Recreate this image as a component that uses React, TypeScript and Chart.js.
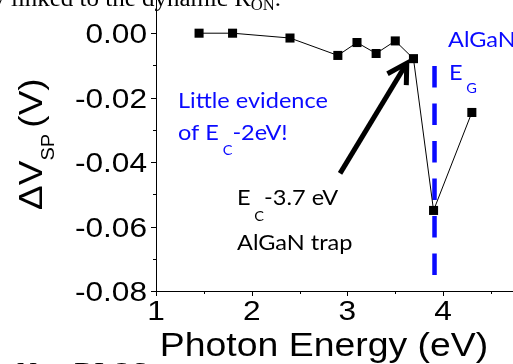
import React, { useEffect, useRef } from 'react';
import { Chart, registerables } from 'chart.js';

Chart.register(...registerables);

// ---- data ----
const ENERGY = [1.45, 1.8, 2.4, 2.9, 3.1, 3.3, 3.5, 3.69, 3.9, 4.3];
const DVSP = [0.0, 0.0, -0.0015, -0.0069, -0.0029, -0.0063, -0.0024, -0.0079, -0.055, -0.0246];
const X_TICKS = [1, 2, 3, 4];
const X_MINOR = [1.5, 2.5, 3.5, 4.5];
const X_LABELS = ['1', '2', '3', '4'];
const Y_TICKS = [0, -0.02, -0.04, -0.06, -0.08];
const Y_MINOR = [-0.01, -0.03, -0.05, -0.07];
const Y_LABELS = ['0.00', '-0.02', '-0.04', '-0.06', '-0.08'];
const GAP_E = [3.91, 3.91];
const GAP_Y = [-0.0102, -0.0754];
const ARROW_X = [2.923, 3.62];
const ARROW_Y = [-0.0435, -0.0093];

const BLUE = '#0a0aff';
const ARIAL = '"Liberation Sans", Arial, sans-serif';
const CAL = 'Lato, "Open Sans", sans-serif';
const SERIF = '"Liberation Serif", "Times New Roman", serif';

type Part = { t: string; size: number; dy?: number };

function drawRich(ctx: CanvasRenderingContext2D, parts: Part[], x: number, y: number, family: string, color: string, sx: number) {
  ctx.save();
  ctx.translate(x, y);
  ctx.scale(sx, 1);
  ctx.fillStyle = color;
  ctx.textAlign = 'left';
  ctx.textBaseline = 'alphabetic';
  let cx = 0;
  for (const p of parts) {
    ctx.font = `${p.size}px ${family}`;
    ctx.fillText(p.t, cx, p.dy || 0);
    cx += ctx.measureText(p.t).width;
  }
  ctx.restore();
}

function drawText(ctx: CanvasRenderingContext2D, t: string, x: number, y: number, font: string, color: string, align: CanvasTextAlign, sx: number) {
  ctx.save();
  ctx.translate(x, y);
  ctx.scale(sx, 1);
  ctx.font = font;
  ctx.fillStyle = color;
  ctx.textAlign = align;
  ctx.textBaseline = 'alphabetic';
  ctx.fillText(t, 0, 0);
  ctx.restore();
}

const deco = {
  id: 'deco',
  afterDraw(chart: any) {
    const ctx: CanvasRenderingContext2D = chart.ctx;
    const xs = chart.scales.x;
    const ys = chart.scales.y;
    const ca = chart.chartArea;
    ctx.save();
    // ticks
    ctx.strokeStyle = '#000';
    ctx.lineWidth = 1;
    ctx.beginPath();
    Y_TICKS.forEach((v) => {
      const py = Math.round(ys.getPixelForValue(v)) + 0.5;
      ctx.moveTo(ca.left - 5, py);
      ctx.lineTo(ca.left, py);
    });
    Y_MINOR.forEach((v) => {
      const py = Math.round(ys.getPixelForValue(v)) + 0.5;
      ctx.moveTo(ca.left - 3, py);
      ctx.lineTo(ca.left, py);
    });
    X_TICKS.forEach((v) => {
      const px = Math.round(xs.getPixelForValue(v)) + 0.5;
      ctx.moveTo(px, ca.bottom);
      ctx.lineTo(px, ca.bottom + 5);
    });
    X_MINOR.forEach((v) => {
      const px = Math.round(xs.getPixelForValue(v)) + 0.5;
      ctx.moveTo(px, ca.bottom);
      ctx.lineTo(px, ca.bottom + 3);
    });
    ctx.stroke();

    // tick labels
    Y_TICKS.forEach((v, i) => {
      const py = ys.getPixelForValue(v);
      drawText(ctx, Y_LABELS[i], ca.left - 9, py + 10, `28px ${ARIAL}`, '#000', 'right', 1.13);
    });
    X_TICKS.forEach((v, i) => {
      const px = xs.getPixelForValue(v);
      drawText(ctx, X_LABELS[i], px, ca.bottom + 29, `28px ${ARIAL}`, '#000', 'center', 1.13);
    });

    // x title
    drawText(ctx, 'Photon Energy (eV)', 324, 356, `34px ${ARIAL}`, '#000', 'center', 1.1);

    // y title (rotated)
    ctx.save();
    ctx.translate(41.5, 210);
    ctx.rotate(-Math.PI / 2);
    ctx.scale(1, 0.88);
    ctx.fillStyle = '#000';
    ctx.textBaseline = 'alphabetic';
    ctx.textAlign = 'left';
    let cx = 0;
    ctx.font = `37px ${ARIAL}`;
    ctx.fillText('\u0394V', cx, 0);
    cx += ctx.measureText('\u0394V').width;
    ctx.font = `20px ${ARIAL}`;
    ctx.fillText('SP', cx, 14);
    cx += ctx.measureText('SP').width;
    ctx.font = `37px ${ARIAL}`;
    ctx.fillText(' (V)', cx - 4, 0);
    ctx.restore();

    // arrow
    const tx = xs.getPixelForValue(ARROW_X[0]);
    const ty = ys.getPixelForValue(ARROW_Y[0]);
    const hx = xs.getPixelForValue(ARROW_X[1]);
    const hy = ys.getPixelForValue(ARROW_Y[1]);
    const len = Math.hypot(tx - hx, ty - hy);
    const ux = (tx - hx) / len;
    const uy = (ty - hy) / len;
    const a = Math.PI / 6;
    const bl = 22;
    const b1x = hx + bl * (ux * Math.cos(a) - uy * Math.sin(a));
    const b1y = hy + bl * (ux * Math.sin(a) + uy * Math.cos(a));
    const b2x = hx + bl * (ux * Math.cos(-a) - uy * Math.sin(-a));
    const b2y = hy + bl * (ux * Math.sin(-a) + uy * Math.cos(-a));
    ctx.strokeStyle = '#000';
    ctx.lineWidth = 5;
    ctx.lineCap = 'butt';
    ctx.lineJoin = 'miter';
    ctx.beginPath();
    ctx.moveTo(tx, ty);
    ctx.lineTo(hx + ux * 3, hy + uy * 3);
    ctx.stroke();
    ctx.beginPath();
    ctx.moveTo(b1x, b1y);
    ctx.lineTo(hx, hy);
    ctx.lineTo(b2x, b2y);
    ctx.stroke();

    // annotations
    const S = 1.12;
    drawRich(ctx, [{ t: 'AlGaN', size: 21 }], 448, 47, CAL, BLUE, S);
    drawRich(ctx, [{ t: 'E', size: 21 }, { t: ' G', size: 13, dy: 13 }], 449, 80, CAL, BLUE, S);
    drawRich(ctx, [{ t: 'Little evidence', size: 21 }], 178, 108, CAL, BLUE, S);
    drawRich(ctx, [{ t: 'of E', size: 21 }, { t: ' C', size: 13, dy: 15 }, { t: '-2eV!', size: 21 }], 178, 140, CAL, BLUE, S);
    drawRich(ctx, [{ t: 'E', size: 21 }, { t: ' C', size: 13, dy: 16 }, { t: '-3.7 eV', size: 21 }], 237, 205, CAL, '#000', S);
    drawRich(ctx, [{ t: 'AlGaN trap', size: 21 }], 237, 250, CAL, '#000', S);

    // surrounding slide text (cropped)
    drawRich(ctx, [{ t: 'ly linked to the dynamic R', size: 24 }, { t: 'ON', size: 16, dy: 4 }, { t: '.', size: 24 }], -14.7, 5.5, SERIF, '#000', 1.04);
    drawRich(ctx, [{ t: 'Non-DLOS', size: 28 }], 16.7, 381, SERIF, '#000', 1.0);
    ctx.restore();
  },
};

export default function App() {
  const ref = useRef<HTMLCanvasElement | null>(null);
  useEffect(() => {
    document.body.style.margin = '0';
    if (!ref.current) return;
    const chart = new Chart(ref.current, {
      type: 'scatter',
      data: {
        datasets: [
          {
            data: ENERGY.map((x, i) => ({ x, y: DVSP[i] })),
            showLine: true,
            borderColor: '#000',
            borderWidth: 1,
            pointStyle: 'rect',
            pointRadius: 6.4,
            pointBackgroundColor: '#000',
            pointBorderWidth: 0,
            clip: false,
            order: 0,
          } as any,
          {
            data: GAP_E.map((x, i) => ({ x, y: GAP_Y[i] })),
            showLine: true,
            borderColor: BLUE,
            borderWidth: 4.5,
            borderDash: [21.5, 16],
            borderCapStyle: 'butt',
            pointRadius: 0,
            clip: false,
            order: 1,
          } as any,
        ],
      },
      options: {
        animation: false,
        responsive: true,
        maintainAspectRatio: false,
        layout: { padding: 0, autoPadding: false },
        plugins: { legend: { display: false }, tooltip: { enabled: false } },
        scales: {
          x: {
            type: 'linear',
            min: 1,
            max: 4.73,
            grid: { display: false },
            ticks: { display: false },
            border: { display: true, color: '#000', width: 1 },
            afterFit: (s: any) => { s.height = 73; },
          },
          y: {
            type: 'linear',
            min: -0.08,
            max: 0.0103,
            grid: { display: false },
            ticks: { display: false },
            border: { display: true, color: '#000', width: 1 },
            afterFit: (s: any) => { s.width = 156; },
          },
        },
      },
      plugins: [deco],
    });
    return () => chart.destroy();
  }, []);
  return (
    <div style={{ position: 'fixed', left: 0, top: 0, width: 513, height: 364, background: '#fff' }}>
      <canvas ref={ref} />
    </div>
  );
}
